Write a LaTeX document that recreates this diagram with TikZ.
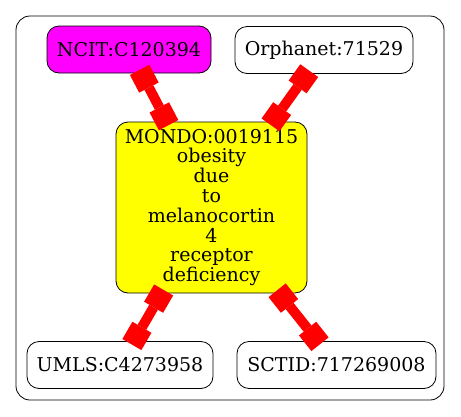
\documentclass[tikz,border=0pt]{standalone}
\usepackage{fontspec}
\setmainfont{DejaVu Serif}
\usetikzlibrary{arrows.meta}
\definecolor{termmagenta}{RGB}{255,0,255}
\definecolor{termyellow}{RGB}{255,255,0}
\definecolor{linkred}{RGB}{255,0,0}
\tikzset{
x=1pt, y=-1pt, % one unit is one pixel of the reference, y runs down
term/.style={draw, line width=0.8pt, rounded corners=12pt, minimum height=47pt, inner sep=0pt, font=\fontsize{19}{19.8}\selectfont}, % every ontology term
boxtip/.tip={Square[length=20pt, width=22pt, line width=0pt]}, % the square ends of a link
link/.style={linkred, line width=10pt, boxtip-boxtip, shorten <=-4pt, shorten >=-4pt}, % the thick red links
}

\begin{document}
\begin{tikzpicture}
            \useasboundingbox (0,0) rectangle (461,416);
            \draw[line width=0.8pt, rounded corners=14pt] (16,16) rectangle (444,400);
            \node[term, fill=termmagenta, minimum width=164pt] (ncit) at (129,49.5) {NCIT:C120394};
            \node[term, fill=white, minimum width=178pt] (orpha) at (324,50) {Orphanet:71529};
            \node[term, fill=termyellow, minimum width=191pt, minimum height=171pt, align=center] (mondo) at (211.5,207.5)
                {MONDO:0019115\\obesity\\due\\to\\melanocortin\\4\\receptor\\deficiency};
            \node[term, fill=white, minimum width=186pt] (umls) at (120,365) {UMLS:C4273958};
            \node[term, fill=white, minimum width=199pt] (sctid) at (336.5,365) {SCTID:717269008};
            \draw[link] (ncit) -- (mondo);
            \draw[link] (orpha) -- (mondo);
            \draw[link] (mondo) -- (umls);
            \draw[link] (mondo) -- (sctid);
\end{tikzpicture}
\end{document}
